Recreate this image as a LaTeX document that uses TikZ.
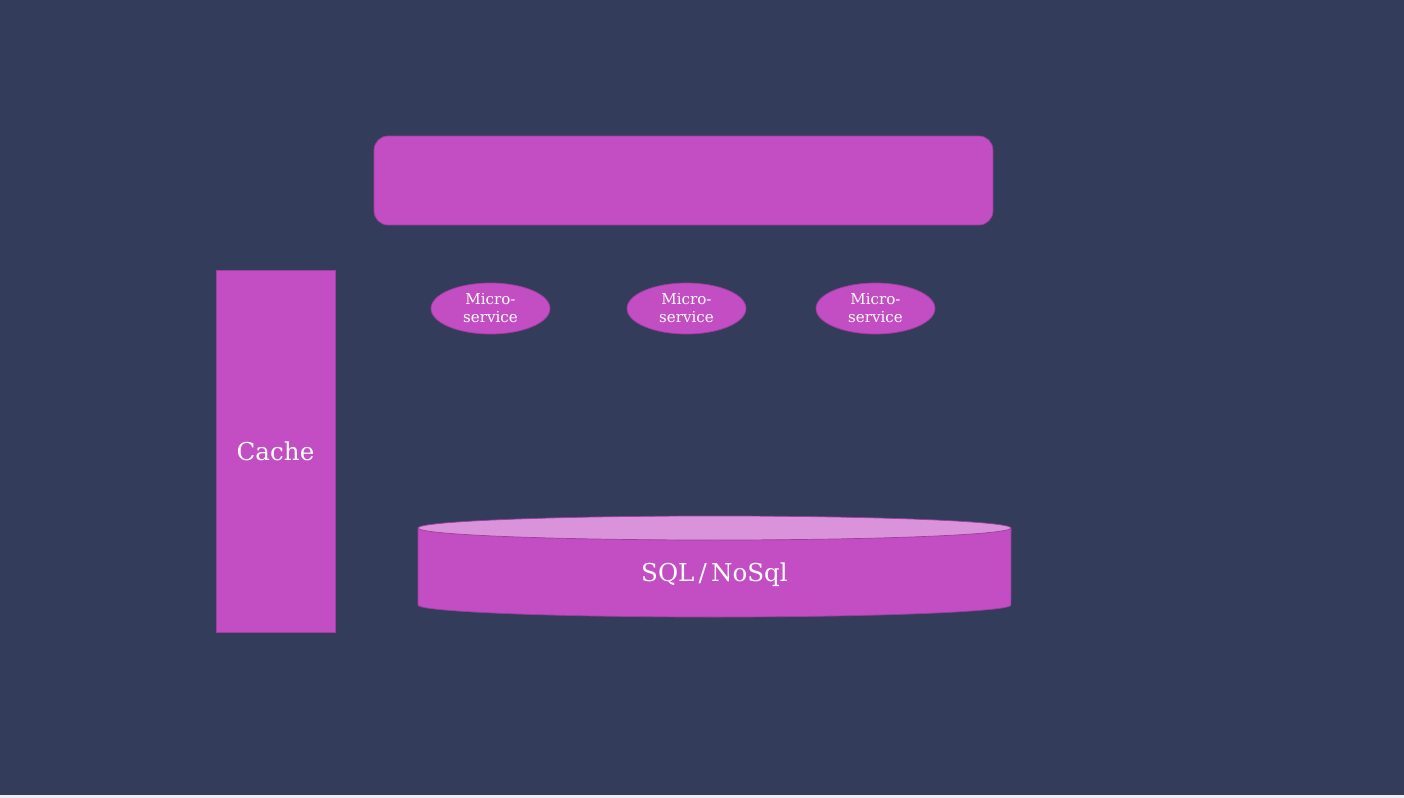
\documentclass[tikz,border=0pt]{standalone}
\usepackage{fontspec}
\setmainfont{DejaVu Serif}
\usepackage{tikz}
\usetikzlibrary{shapes.geometric}

\definecolor{navy}{HTML}{343C5B}
\definecolor{violet}{HTML}{C34DC3}
\definecolor{lilac}{HTML}{DA93DA}
\definecolor{rim}{HTML}{9E3E9E}
\definecolor{strip}{HTML}{EEEEEE}

\tikzset{
	block/.style={draw=rim,fill=violet,line width=0.4pt},
	micro/.style={block,ellipse,minimum width=2.38cm,minimum height=1.02cm,inner sep=0pt,
		text=white,align=center,font=\fontsize{8.6}{10.2}\selectfont},
	label/.style={text=white,font=\fontsize{14}{16}\selectfont}
}

\begin{document}
\begin{tikzpicture}[x=0.02cm,y=-0.02cm]
	\useasboundingbox (0,0) rectangle (1404,798);
	\fill[navy] (0,0) rectangle (1404,795);
	\fill[strip] (0,795) rectangle (1404,798);
	% gateway bar
	\node[block,rounded corners=0.28cm,minimum width=12.38cm,minimum height=1.78cm] (gw) at (683.5,180.5) {};
	% cache
	\node[block,minimum width=2.38cm,minimum height=7.24cm,label] (cache) at (275.5,451) {Cache};
	% services
	\node[micro] (ms1) at (490.5,308.5) {Micro-\\service};
	\node[micro] (ms2) at (686.5,308.5) {Micro-\\service};
	\node[micro] (ms3) at (875.5,308.5) {Micro-\\service};
	% database
	\filldraw[block] (418,528) -- (418,605) arc[start angle=180,end angle=360,x radius=5.93cm,y radius=0.24cm] -- (1011,528) -- cycle;
	\filldraw[draw=rim,fill=lilac] (714.5,528) ellipse [x radius=5.93cm,y radius=0.24cm];
	\node[label] (db) at (714.5,575) {SQL\,/\,NoSql};
\end{tikzpicture}
\end{document}
